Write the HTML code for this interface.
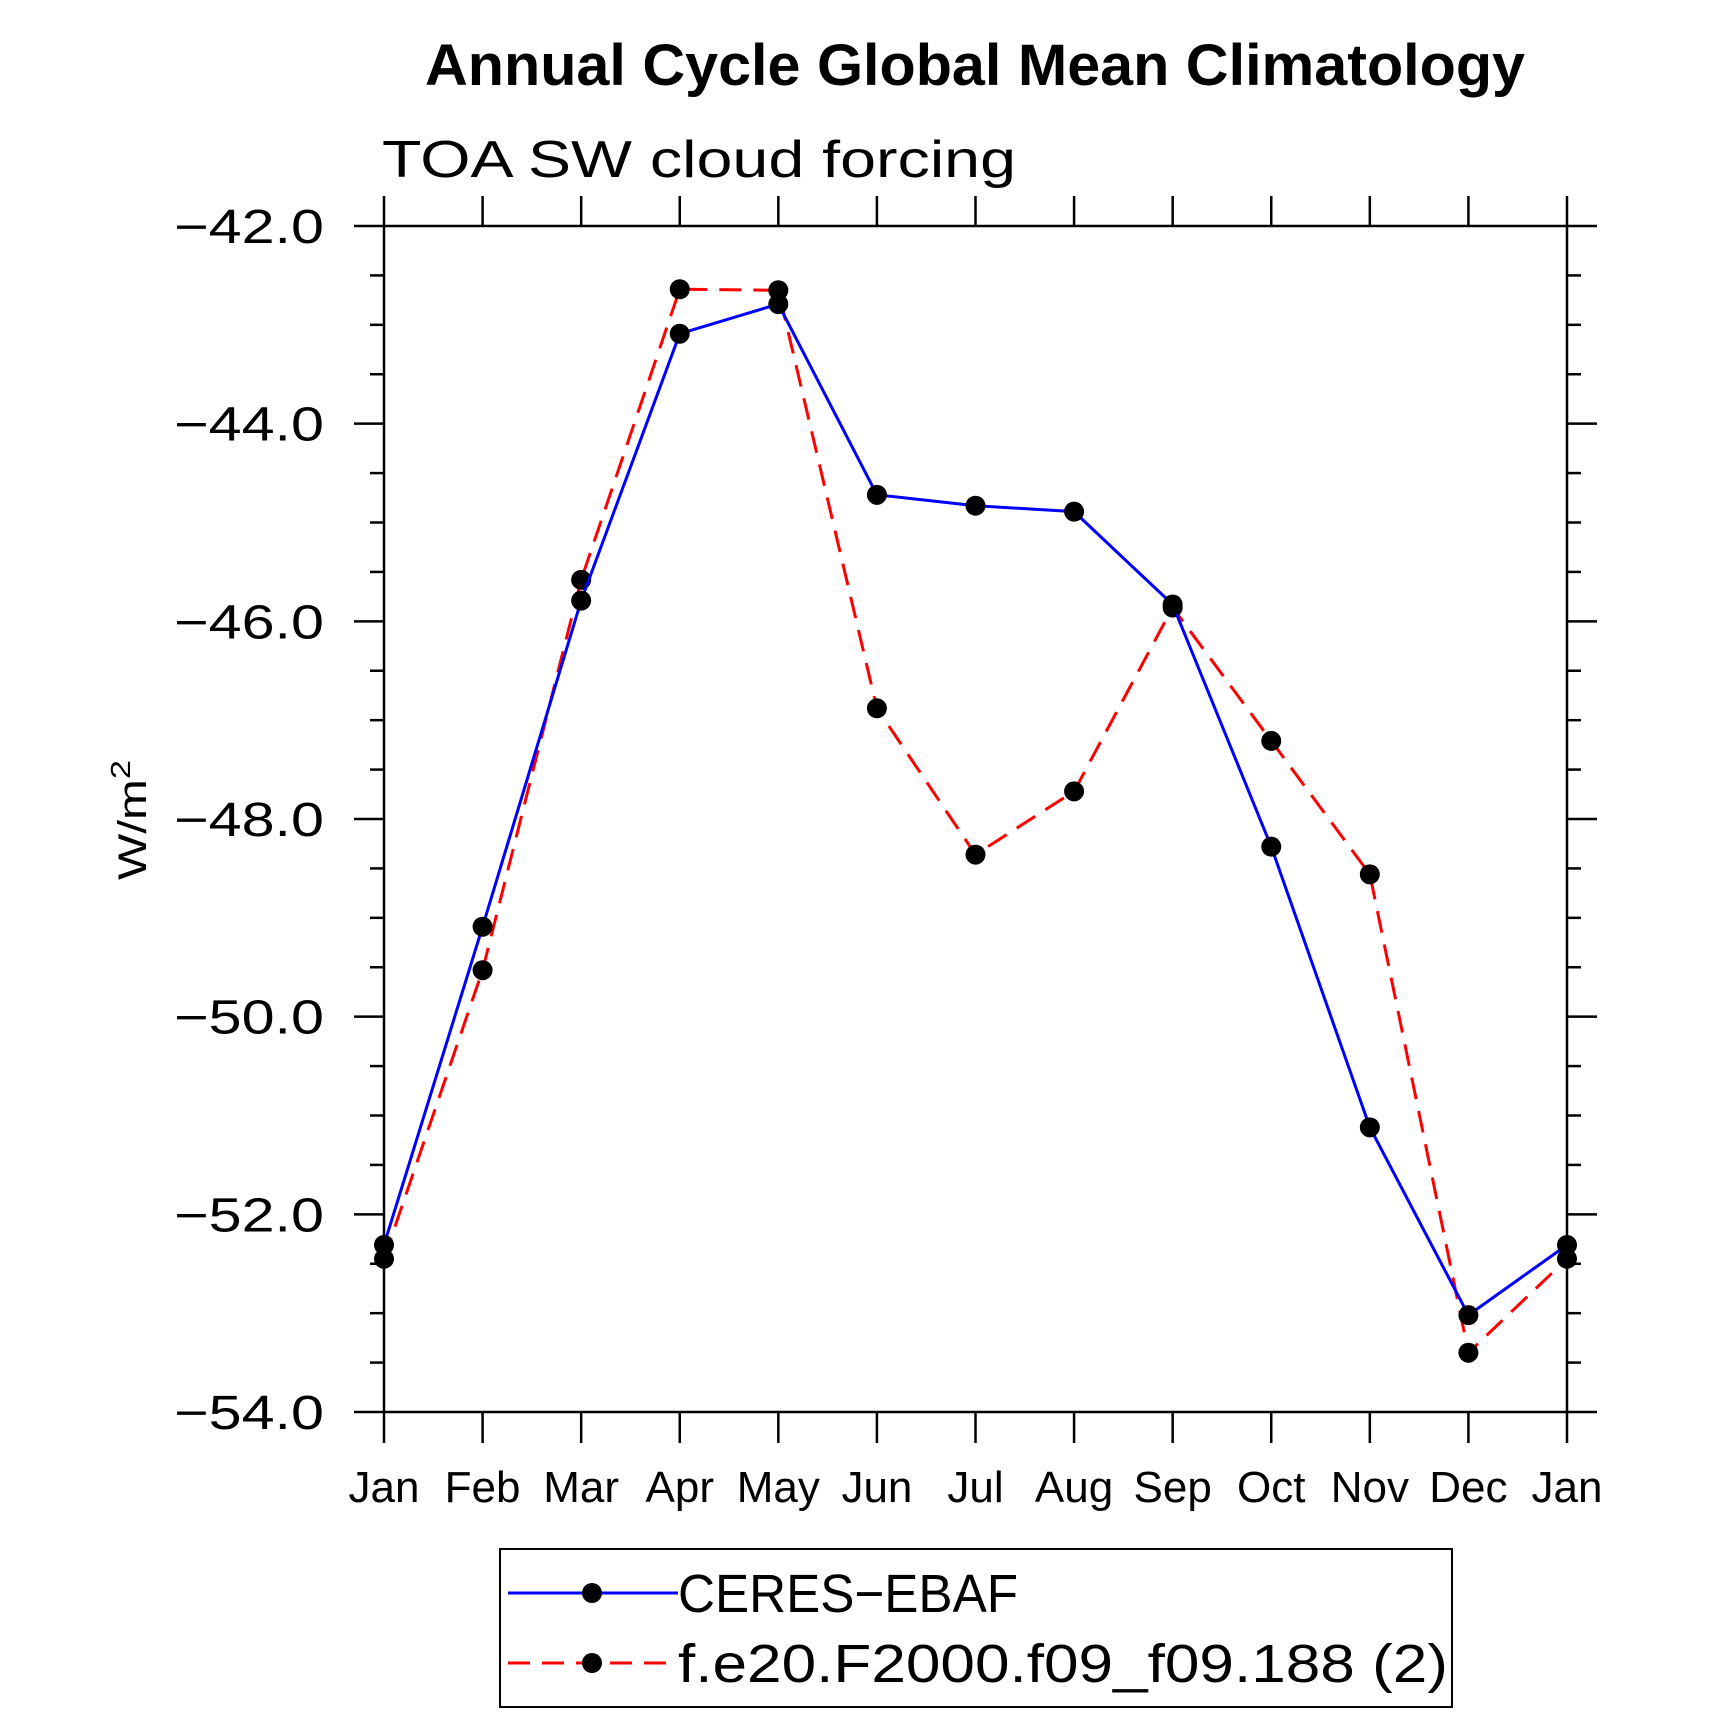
<!DOCTYPE html>
<html><head><meta charset="utf-8"><style>
html,body{margin:0;padding:0;background:#fff;}
svg{display:block;font-family:"Liberation Sans",sans-serif;}
</style></head><body>
<svg id="chart" width="1710" height="1713" viewBox="0 0 1710 1713" xmlns="http://www.w3.org/2000/svg">
<rect width="1710" height="1713" fill="#fff"/>
<text x="975" y="85" text-anchor="middle" font-size="58" font-weight="bold" textLength="1100" lengthAdjust="spacingAndGlyphs">Annual Cycle Global Mean Climatology</text>
<text x="382" y="177" font-size="52" font-weight="300" textLength="634" lengthAdjust="spacingAndGlyphs">TOA SW cloud forcing</text>
<text transform="translate(146,820) rotate(-90)" text-anchor="middle" font-size="40" textLength="120" lengthAdjust="spacingAndGlyphs">W/m<tspan dy="-16" font-size="28">2</tspan></text>
<g id="axes"></g>
<g id="series"></g>
<g id="legend">
<rect x="500" y="1549" width="952" height="158" fill="none" stroke="#000" stroke-width="2"/>
<g>
<line x1="508" y1="1593" x2="678" y2="1593" stroke="#0000ff" stroke-width="3"/>
<circle cx="592" cy="1593" r="10" fill="#000"/>
<text x="678" y="1612" font-size="54" textLength="340" lengthAdjust="spacingAndGlyphs">CERES−EBAF</text>
</g>
<g>
<line x1="508" y1="1663" x2="678" y2="1663" stroke="#ff0000" stroke-width="3" stroke-dasharray="22,12"/>
<circle cx="592" cy="1663" r="10" fill="#000"/>
<text x="678" y="1682" font-size="54" textLength="770" lengthAdjust="spacingAndGlyphs">f.e20.F2000.f09_f09.188 (2)</text>
</g>
</g>
</svg>
<script>
const months = ["Jan","Feb","Mar","Apr","May","Jun","Jul","Aug","Sep","Oct","Nov","Dec","Jan"];
const ceres = [-52.31,-49.09,-45.79,-43.09,-42.79,-44.72,-44.83,-44.89,-45.83,-48.28,-51.12,-53.02,-52.31];
const model = [-52.45,-49.53,-45.58,-42.64,-42.65,-46.88,-48.36,-47.72,-45.86,-47.21,-48.56,-53.40,-52.45];
const yTicks = [-42,-44,-46,-48,-50,-52,-54];
const yTickLabels = ["−42.0","−44.0","−46.0","−48.0","−50.0","−52.0","−54.0"];

const NS="http://www.w3.org/2000/svg";
const L=384,R=1567,T=226,B=1412,yMax=-42,yMin=-54;
function xs(i){return L+(R-L)*i/(months.length-1);}
function ys(v){return T+(yMax-v)/(yMax-yMin)*(B-T);}
function mk(tag,attrs,parent){const e=document.createElementNS(NS,tag);for(const k in attrs)e.setAttribute(k,attrs[k]);parent.appendChild(e);return e;}
const axes=document.getElementById('axes');
const frame=mk('rect',{x:L,y:T,width:R-L,height:B-T,fill:'none',stroke:'#000','stroke-width':2.5},axes);


for(let v=yMax;v>=yMin-1e-9;v-=0.5){
  const y=ys(v);const major=Math.abs(v-Math.round(v/2)*2)<1e-6;
  const len=major?30:14;
  const t1=mk('line',{x1:L-len,y1:y,x2:L,y2:y,stroke:'#000','stroke-width':2.5},axes);
  
  
  const t2=mk('line',{x1:R,y1:y,x2:R+len,y2:y,stroke:'#000','stroke-width':2.5},axes);
  
  
}
yTicks.forEach((v,i)=>{
  const t=mk('text',{x:174,y:ys(v)+17,'font-size':48,textLength:150,lengthAdjust:'spacingAndGlyphs'},axes);
  t.textContent=yTickLabels[i];
  
  
});
months.forEach((m,i)=>{
  const x=xs(i);
  const a=mk('line',{x1:x,y1:T-30,x2:x,y2:T,stroke:'#000','stroke-width':2.5},axes);
  
  
  const b=mk('line',{x1:x,y1:B,x2:x,y2:B+31,stroke:'#000','stroke-width':2.5},axes);
  
  
  const t=mk('text',{x:x,y:1502,'text-anchor':'middle','font-size':44},axes);
  t.textContent=m;
  
  
});
const series=document.getElementById('series');
function draw(vals,color,dash,name){
  const g=mk('g',{},series);
  
  
  const pts=vals.map((v,i)=>xs(i)+','+ys(v)).join(' ');
  const attrs={points:pts,fill:'none',stroke:color,'stroke-width':3};
  if(dash)attrs['stroke-dasharray']=dash;
  const pl=mk('polyline',attrs,g);
  
  
  vals.forEach((v,i)=>{
    const c=mk('circle',{cx:xs(i),cy:ys(v),r:10,fill:'#000'},g);
    
    
  });
}
draw(model,'#ff0000','22,12','model-series');
draw(ceres,'#0000ff',null,'ceres-series');
</script>
</body></html>
